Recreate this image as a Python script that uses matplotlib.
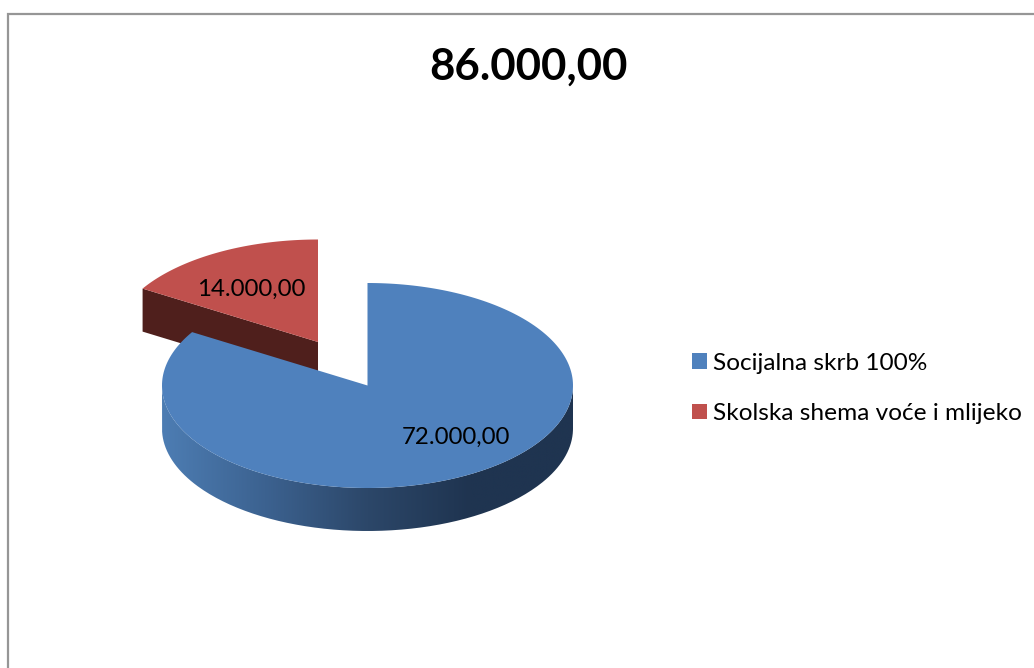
import numpy as np
import matplotlib
matplotlib.use("Agg")
import matplotlib.pyplot as plt
from matplotlib.patches import Patch, PathPatch
from matplotlib.path import Path
from matplotlib.colors import LinearSegmentedColormap
from matplotlib.transforms import IdentityTransform

title = "86.000,00"
categories = ["Socijalna skrb 100%", "Skolska shema voće i mlijeko"]
values = [72000, 14000]
value_labels = ["72.000,00", "14.000,00"]
colors = ["#4f81bd", "#c0504d"]
red_wall = "#4f1f1c"
wall_gradient = ["#4d7db3", "#3c6290", "#2c4769", "#1f3450", "#1f3450"]
FONT = "Lato"

fig = plt.figure(figsize=(10.34, 6.68), dpi=100, facecolor="white")
ax = fig.add_axes([0, 0, 1, 1])
ax.set_xlim(0, 1034)
ax.set_ylim(668, 0)
ax.axis("off")

# chart frame (right and bottom edges lie beyond the canvas)
ax.plot([7.5, 7.5, 1040], [680, 13.5, 13.5], color="#969696", lw=1.6, solid_joinstyle="miter")

cx, cy, rx, ry, depth = 367.5, 385.5, 205.5, 102.5, 43
offset = (-49.5, -43.5)  # exploded slice

def rim(deg, x0, y0):
    """Point(s) on ellipse; deg measured clockwise from 12 o'clock."""
    a = np.radians(deg)
    return x0 + rx * np.sin(a), y0 - ry * np.cos(a)

sweep = 360 * np.array(values) / sum(values)

# exploded red slice: side wall, then top
rx0, ry0 = cx + offset[0], cy + offset[1]
t = np.linspace(sweep[0], 360, 80)
xs, ys = rim(t, rx0, ry0)
ax.fill([xs[0], rx0, rx0, xs[0]], [ys[0], ry0, ry0 + depth, ys[0] + depth],
        color=red_wall, lw=0, zorder=2)
ax.fill(np.r_[rx0, xs], np.r_[ry0, ys], color=colors[1], lw=0, zorder=3)

# blue slice side wall with horizontal gradient
t = np.linspace(90, 270, 200)
xs, ys = rim(t, cx, cy)
wx = np.r_[xs, xs[::-1]]
wy = np.r_[ys, ys[::-1] + depth]
wall = PathPatch(Path(np.c_[wx, wy]), fc="none", ec="none", transform=ax.transData, zorder=4)
ax.add_patch(wall)
cmap = LinearSegmentedColormap.from_list("wall", wall_gradient[::-1])
img = ax.imshow(np.linspace(1, 0, 256)[None, :], extent=(cx - rx, cx + rx, cy + ry + depth, cy - ry),
                cmap=cmap, aspect="auto", zorder=4, vmin=0, vmax=1)
img.set_clip_path(wall)
ax.set_xlim(0, 1034)
ax.set_ylim(668, 0)

# blue slice top
t = np.linspace(0, sweep[0], 240)
xs, ys = rim(t, cx, cy)
ax.fill(np.r_[cx, xs], np.r_[cy, ys], color=colors[0], lw=0, zorder=5)

# labels
ax.text(456, 437, value_labels[0], ha="center", va="center", fontsize=17.3, family=FONT, color="black", zorder=6)
ax.text(251.5, 289, value_labels[1], ha="center", va="center", fontsize=17.3, family=FONT, color="black", zorder=6)
ax.text(528, 67, title, ha="center", va="center", fontsize=31.5, fontweight="bold", family=FONT, color="black")

handles = [Patch(facecolor=c, edgecolor="none") for c in colors]
ax.legend(handles, categories, loc="upper left", bbox_to_anchor=(682, 668 - 343), bbox_transform=IdentityTransform(),
          frameon=False, prop={"family": FONT, "size": 17.6}, handlelength=0.62, handleheight=0.62,
          handletextpad=0.25, labelspacing=1.2, borderpad=0.4, borderaxespad=0)

fig.savefig("out.png", dpi=100, facecolor="white")
